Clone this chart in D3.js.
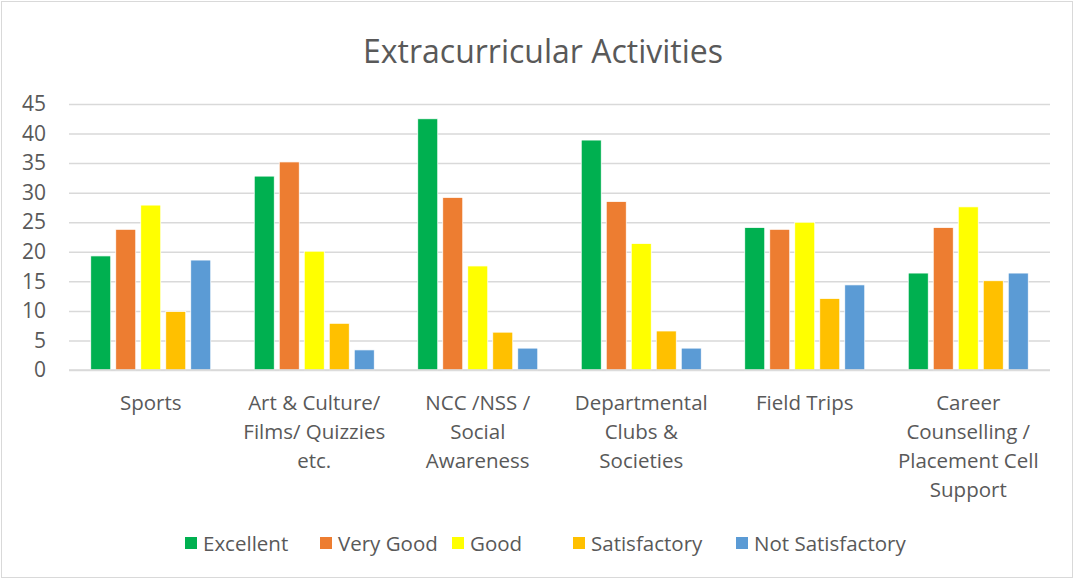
<!DOCTYPE html>
<html>
<head>
<meta charset="utf-8">
<script src="https://cdn.jsdelivr.net/npm/d3@7"></script>
<style>
    body { margin: 0; background: #fff; }
    text { font-family: "Open Sans", sans-serif; fill: #595959; }
</style>
</head>
<body>
<script>
"use strict";

// Chart data
const categories = ["Sports", "Art & Culture", "NCC/NSS", "Departmental Clubs", "Field Trips", "Career Counselling"]
const categoryLines = [
    ["Sports"],
    ["Art & Culture/", "Films/ Quizzies", "etc."],
    ["NCC /NSS /", "Social", "Awareness"],
    ["Departmental", "Clubs &", "Societies"],
    ["Field Trips"],
    ["Career", "Counselling /", "Placement Cell", "Support"]
]
const series = ["Excellent", "Very Good", "Good", "Satisfactory", "Not Satisfactory"]
const excellent = [19.3, 32.8, 42.5, 38.9, 24.1, 16.4]
const veryGood = [23.8, 35.2, 29.2, 28.5, 23.8, 24.1]
const good = [27.9, 20.1, 17.6, 21.4, 25.0, 27.6]
const satisfactory = [9.9, 7.9, 6.4, 6.6, 12.1, 15.1]
const notSatisfactory = [18.6, 3.4, 3.7, 3.7, 14.4, 16.4]
const yTicks = [0, 5, 10, 15, 20, 25, 30, 35, 40, 45]

const seriesValues = [excellent, veryGood, good, satisfactory, notSatisfactory]
const colors = ["#00B050", "#ED7D31", "#FFFF00", "#FFC000", "#5B9BD5"]

// Dimensions
const measurements = {
    width: 1074,
    height: 579,
    left: 69,
    right: 1050,
    top: 104,
    bottom: 370
}

const svg = d3.select("body").append("svg")
    .attr("width", measurements.width)
    .attr("height", measurements.height)

// chart frame
svg.append("rect")
    .attr("x", 1.5).attr("y", 1.5)
    .attr("width", measurements.width - 3)
    .attr("height", measurements.height - 3)
    .attr("fill", "#fff")
    .attr("stroke", "#d9d9d9")

// Title
svg.append("text")
    .attr("x", 543)
    .attr("y", 63)
    .attr("text-anchor", "middle")
    .style("font-size", "32px")
    .text("Extracurricular Activities")

// Scales
const x0 = d3.scaleBand()
    .domain(categories)
    .range([measurements.left, measurements.right])
    .paddingInner(0.266)
    .paddingOuter(0.133)

const x1 = d3.scaleBand()
    .domain(series)
    .range([0, x0.bandwidth()])
    .paddingInner(0.2)

const y = d3.scaleLinear()
    .domain([0, 45])
    .range([measurements.bottom, measurements.top])

// Gridlines and y labels
const yAxis = d3.axisLeft(y)
    .tickValues(yTicks)
    .tickSize(-(measurements.right - measurements.left))
    .tickPadding(23)

const gy = svg.append("g")
    .attr("transform", "translate(" + measurements.left + ",0)")
    .call(yAxis)
gy.select(".domain").remove()
gy.selectAll("line").attr("stroke", "#d9d9d9").attr("stroke-width", 1.5)
gy.selectAll("text")
    .attr("fill", "#595959")
    .style("font-family", "'Open Sans', sans-serif")
    .style("font-size", "21px")

// Bars
const groups = svg.selectAll(".group")
    .data(categories)
    .enter()
    .append("g")
    .attr("class", "group")
    .attr("transform", (d) => "translate(" + x0(d) + ",0)")

groups.selectAll("rect")
    .data((d, i) => series.map((s, j) => ({ key: s, value: seriesValues[j][i], color: colors[j] })))
    .enter()
    .append("rect")
    .attr("x", (d) => x1(d.key))
    .attr("y", (d) => y(d.value))
    .attr("width", x1.bandwidth())
    .attr("height", (d) => y(0) - y(d.value))
    .attr("fill", (d) => d.color)
    .attr("stroke", "#fff")
    .attr("stroke-width", 0.75)

// baseline
svg.append("line")
    .attr("x1", measurements.left).attr("x2", measurements.right)
    .attr("y1", y(0)).attr("y2", y(0))
    .attr("stroke", "#d9d9d9")
    .attr("stroke-width", 1.5)

// Category labels
const catLabels = svg.selectAll(".cat")
    .data(categories)
    .enter()
    .append("text")
    .attr("class", "cat")
    .attr("text-anchor", "middle")
    .style("font-size", "20.5px")

catLabels.selectAll("tspan")
    .data((d, i) => categoryLines[i].map((line) => ({ line: line, cat: d })))
    .enter()
    .append("tspan")
    .attr("x", (d) => x0(d.cat) + x0.bandwidth() / 2)
    .attr("y", (d, i) => 410 + i * 29)
    .text((d) => d.line)

// Legend
const legendX = [185, 320, 452, 573, 736]
const legend = svg.selectAll(".legend")
    .data(series)
    .enter()
    .append("g")
    .attr("class", "legend")
    .attr("transform", (d, i) => "translate(" + legendX[i] + ",537)")

legend.append("rect")
    .attr("width", 12)
    .attr("height", 12)
    .attr("fill", (d, i) => colors[i])

legend.append("text")
    .attr("x", 18)
    .attr("y", 14)
    .style("font-size", "20.5px")
    .text((d) => d)
</script>
</body>
</html>
